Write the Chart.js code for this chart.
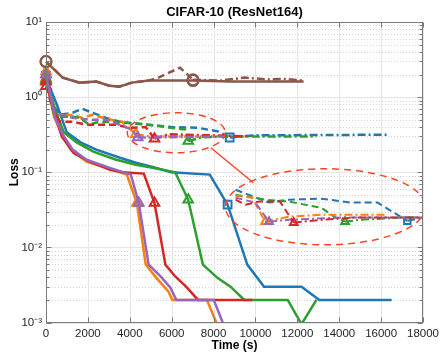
<!DOCTYPE html>
<html>
<head>
<meta charset="utf-8">
<title>CIFAR-10 (ResNet164)</title>
<script src="https://cdn.jsdelivr.net/npm/chart.js@4.4.1/dist/chart.umd.min.js"></script>
<style>
  html, body { margin: 0; padding: 0; background: #fff; }
  #wrap { width: 443px; height: 354px; }
</style>
</head>
<body>
<div id="wrap"><canvas id="chart"></canvas></div>
<script>
// tick values
const timeTicks = [0, 2000, 4000, 6000, 8000, 10000, 12000, 14000, 16000, 18000];
const lossTicks = [1e-3, 1e-2, 1e-1, 1, 10];

// training loss, solid lines  [time (s), loss]
const blueTrain = [[0,1.8],[520,0.79],[990,0.34],[1650,0.25],[2400,0.2],[3530,0.156],[4290,0.134],[5090,0.118],[5980,0.1],[7820,0.093],[8670,0.037],[9610,0.0059],[10410,0.003],[12200,0.003],[13050,0.002],[16500,0.002]];
const orangeTrain = [[0,1.8],[380,0.55],[710,0.34],[1180,0.2],[1930,0.138],[2870,0.115],[3860,0.093],[4340,0.039],[4760,0.0059],[5280,0.0039],[5840,0.0026],[6030,0.002],[7680,0.002],[8200,0.0009]];
const greenTrain = [[0,1.7],[520,0.58],[850,0.34],[1460,0.25],[2260,0.188],[3350,0.147],[4290,0.126],[5090,0.115],[6170,0.1],[6790,0.043],[7490,0.0059],[8200,0.0039],[8810,0.003],[9470,0.002],[11540,0.002],[12200,0.00095],[12910,0.002]];
const redTrain = [[0,1.6],[470,0.55],[750,0.3],[1320,0.18],[2120,0.138],[3060,0.108],[3630,0.1],[4670,0.096],[5180,0.039],[5700,0.0059],[6170,0.0041],[6690,0.003],[7260,0.002],[9850,0.002]];
const purpleTrain = [[0,2.0],[420,0.55],[800,0.32],[1270,0.2],[1930,0.147],[3020,0.115],[4050,0.093],[4430,0.039],[4900,0.0059],[5470,0.0041],[5940,0.0029],[6220,0.002],[8010,0.002],[8500,0.0009]];
const brownTrain = [[0,2.97],[800,1.82],[1600,1.56],[2400,1.61],[3020,1.42],[3490,1.38],[4100,1.56],[4900,1.66],[7020,1.66],[8810,1.61],[12300,1.61]];

// test loss, dashed lines
const blueTest = [[0,1.93],[330,0.79],[660,0.58],[1270,0.62],[1740,0.7],[2210,0.62],[2870,0.53],[3630,0.46],[4760,0.43],[5980,0.4],[7260,0.39],[8200,0.35],[8770,0.29],[9940,0.31],[16350,0.316]];
const orangeTest = [[0,2.2],[420,0.58],[1270,0.58],[1740,0.53],[2210,0.58],[3110,0.5],[3630,0.47],[3960,0.39],[4290,0.32],[4900,0.3],[8200,0.3]];
const greenTest = [[0,1.7],[420,0.55],[660,0.55],[1270,0.55],[1600,0.53],[2070,0.43],[2400,0.46],[3020,0.47],[3820,0.46],[4900,0.43],[5980,0.39],[6640,0.37],[6790,0.26],[7400,0.29],[8340,0.3],[12910,0.3]];
const redTest = [[0,1.4],[330,0.68],[660,0.47],[1270,0.47],[1930,0.43],[2540,0.43],[3350,0.43],[3960,0.39],[4760,0.4],[5180,0.28],[5840,0.32],[9750,0.3]];
const purpleTest = [[0,2.0],[420,0.62],[1270,0.53],[2070,0.5],[2870,0.5],[3490,0.43],[4100,0.37],[4380,0.29],[5040,0.29],[8530,0.3]];
const brownTest = [[0,2.97],[800,1.82],[1600,1.56],[2400,1.61],[3020,1.42],[3490,1.38],[4100,1.56],[4900,1.66],[5370,1.82],[6400,2.47],[7020,1.7],[8340,1.66],[9470,1.82],[10550,1.72],[11300,1.75],[12300,1.66]];

// zoomed copy of the test curves, as it sits inside the big ellipse
const blueZoom = [[9050,0.0585],[10650,0.0395],[11590,0.0432],[13150,0.0444],[14560,0.0395],[15830,0.0395],[16920,0.0256],[17250,0.0226],[18000,0.0249]];
const orangeZoom = [[9050,0.0486],[9850,0.0458],[10460,0.022],[11590,0.0256],[13150,0.0272],[16300,0.0272]];
const greenZoom = [[9050,0.0501],[10460,0.0432],[11590,0.0407],[13150,0.0337],[13760,0.0256],[14280,0.022],[15030,0.0233],[16920,0.0249],[18000,0.0249]];
const redZoom = [[9050,0.0432],[9520,0.037],[10180,0.0407],[11170,0.0407],[11830,0.0213],[13150,0.0233],[14700,0.0249],[18000,0.0249]];
const purpleZoom = [[9050,0.0458],[9990,0.0395],[10650,0.022],[11590,0.0233],[14090,0.0249],[17860,0.0249]];

// times where a marker sits
const blueMarks = [8670, 8770, 0, 17250];
const orangeMarks = [4340, 4290, 0, 10460];
const greenMarks = [6790, 0, 14280];
const redMarks = [5180, 0, 11830];
const purpleMarks = [4430, 4380, 0, 10650];
const brownMarks = [0, 7020];

const COLORS = {
  blue: '#1f77b4', orange: '#ff7f0e', green: '#2ca02c',
  red: '#d62728', purple: '#9467bd', brown: '#8c564b'
};
const DASH = [7, 4];
const DASHDOT = [8, 3, 2, 3];

// build a line dataset; dashed lines switch to dash-dot after their marker
const makeLine = (pts, marks, color, kind, shape, small) => {
  const switchAt = Math.max(...marks.filter(m => pts.some(p => p[0] === m)));
  return {
    data: pts.map(p => ({x: p[0], y: p[1]})),
    borderColor: color,
    borderWidth: small ? 2 : 2.5,
    pointRadius: pts.map(p => marks.includes(p[0]) ? (small ? 4.5 : 5.5) : 0),
    pointStyle: shape,
    pointBorderColor: color,
    pointBackgroundColor: 'rgba(0,0,0,0)',
    pointBorderWidth: 2,
    fill: false,
    tension: 0,
    clip: {left: 10, top: 0, right: 0, bottom: 0},
    segment: kind === 'solid' ? {} : {
      borderDash: ctx => ctx.p0.parsed.x >= switchAt ? DASHDOT : DASH
    }
  };
};

const datasets = [
  makeLine(blueTrain, blueMarks, COLORS.blue, 'solid', 'rect'),
  makeLine(blueTest, blueMarks, COLORS.blue, 'dash', 'rect'),
  makeLine(orangeTrain, orangeMarks, COLORS.orange, 'solid', 'triangle'),
  makeLine(orangeTest, orangeMarks, COLORS.orange, 'dash', 'triangle'),
  makeLine(greenTrain, greenMarks, COLORS.green, 'solid', 'triangle'),
  makeLine(greenTest, greenMarks, COLORS.green, 'dash', 'triangle'),
  makeLine(redTrain, redMarks, COLORS.red, 'solid', 'triangle'),
  makeLine(redTest, redMarks, COLORS.red, 'dash', 'triangle'),
  makeLine(purpleTrain, purpleMarks, COLORS.purple, 'solid', 'triangle'),
  makeLine(purpleTest, purpleMarks, COLORS.purple, 'dash', 'triangle'),
  makeLine(brownTrain, brownMarks, COLORS.brown, 'solid', 'circle'),
  makeLine(brownTest, brownMarks, COLORS.brown, 'dash', 'circle'),
  makeLine(blueZoom, blueMarks, COLORS.blue, 'dash', 'rect', true),
  makeLine(greenZoom, greenMarks, COLORS.green, 'dash', 'triangle', true),
  makeLine(orangeZoom, orangeMarks, COLORS.orange, 'dash', 'triangle', true),
  makeLine(purpleZoom, purpleMarks, COLORS.purple, 'dash', 'triangle', true),
  makeLine(redZoom, redMarks, COLORS.red, 'dash', 'triangle', true)
];
// later datasets are drawn on top
datasets.forEach((d, i) => { d.order = -i; });

const SUP = {'-': '\u207B', '0': '\u2070', '1': '\u00B9', '2': '\u00B2', '3': '\u00B3'};
const powerLabel = v => '10' + String(Math.round(Math.log10(v))).split('').map(c => SUP[c]).join('');

// grid, box, inward ticks and the zoom ellipses
const matlabAxes = {
  id: 'matlabAxes',
  beforeDatasetsDraw(chart) {
    const {ctx, chartArea: a, scales: {x, y}} = chart;
    const hline = py => { ctx.beginPath(); ctx.moveTo(a.left, py); ctx.lineTo(a.right, py); ctx.stroke(); };
    ctx.save();
    ctx.lineWidth = 1;
    ctx.strokeStyle = '#d4d4d4';
    ctx.setLineDash([1, 2]);
    for (let e = -3; e < 1; e++) {
      for (let m = 2; m <= 9; m++) hline(Math.round(y.getPixelForValue(m * Math.pow(10, e))) + 0.5);
    }
    ctx.setLineDash([]);
    ctx.strokeStyle = '#e6e6e6';
    lossTicks.forEach(v => hline(Math.round(y.getPixelForValue(v)) + 0.5));
    timeTicks.forEach(v => {
      const px = Math.round(x.getPixelForValue(v)) + 0.5;
      ctx.beginPath(); ctx.moveTo(px, a.top); ctx.lineTo(px, a.bottom); ctx.stroke();
    });
    ctx.restore();
  },
  afterDatasetsDraw(chart) {
    const {ctx, chartArea: a, scales: {x, y}} = chart;
    ctx.save();
    ctx.beginPath();
    ctx.rect(a.left, a.top, a.right - a.left, a.bottom - a.top);
    ctx.clip();
    ctx.strokeStyle = '#ff4526';
    ctx.lineWidth = 1.5;
    ctx.setLineDash([7, 5]);
    ctx.beginPath();
    ctx.ellipse(x.getPixelForValue(6220), y.getPixelForValue(0.336), 49, 20, 0, 0, Math.PI * 2);
    ctx.stroke();
    ctx.beginPath();
    ctx.ellipse(x.getPixelForValue(13340), y.getPixelForValue(0.0347), 100, 38, 0, 0, Math.PI * 2);
    ctx.stroke();
    ctx.setLineDash([]);
    ctx.beginPath();
    ctx.moveTo(x.getPixelForValue(7870), y.getPixelForValue(0.212));
    ctx.lineTo(x.getPixelForValue(9900), y.getPixelForValue(0.0724));
    ctx.stroke();
    ctx.restore();

    ctx.save();
    ctx.strokeStyle = '#7a7a7a';
    ctx.lineWidth = 1;
    const L = Math.round(a.left) + 0.5, R = Math.round(a.right) - 0.5;
    const T = Math.round(a.top) + 0.5, B = Math.round(a.bottom) - 0.5;
    ctx.strokeRect(L, T, R - L, B - T);
    ctx.beginPath();
    for (let e = -3; e <= 1; e++) {
      for (let m = 1; m <= 9; m++) {
        const v = m * Math.pow(10, e);
        if (v > 10.001) break;
        const py = Math.round(y.getPixelForValue(v)) + 0.5;
        const len = m === 1 ? 5 : 3;
        ctx.moveTo(L, py); ctx.lineTo(L + len, py);
        ctx.moveTo(R, py); ctx.lineTo(R - len, py);
      }
    }
    timeTicks.forEach(v => {
      const px = Math.round(x.getPixelForValue(v)) + 0.5;
      ctx.moveTo(px, B); ctx.lineTo(px, B - 5);
      ctx.moveTo(px, T); ctx.lineTo(px, T + 5);
    });
    ctx.stroke();
    ctx.restore();
  }
};

const tickFont = {family: '"Liberation Sans", Arial, sans-serif', size: 11.5};
const boldFont = {family: '"Liberation Sans", Arial, sans-serif', size: 12, weight: 'bold'};

new Chart(document.querySelector('#chart').getContext('2d'), {
  type: 'line',
  data: {datasets},
  options: {
    responsive: true,
    maintainAspectRatio: false,
    animation: false,
    events: [],
    layout: {padding: {left: 0, right: 15, top: 0, bottom: 0}},
    plugins: {
      legend: {display: false},
      tooltip: {enabled: false},
      title: {
        display: true,
        fullSize: false,
        text: 'CIFAR-10 (ResNet164)',
        color: '#000',
        font: {family: '"Liberation Sans", Arial, sans-serif', size: 13, weight: 'bold'},
        padding: {top: 5, bottom: 1.4}
      }
    },
    scales: {
      x: {
        type: 'linear',
        min: 0,
        max: 18000,
        afterBuildTicks: scale => { scale.ticks = timeTicks.map(v => ({value: v})); },
        afterFit: scale => { scale.height = 31.5; },
        grid: {display: false, drawTicks: false},
        border: {display: false},
        ticks: {color: '#262626', font: tickFont, padding: 4, maxRotation: 0, autoSkip: false, callback: v => String(v)},
        title: {display: true, text: 'Time (s)', color: '#000', font: boldFont, padding: {top: 0, bottom: 1}}
      },
      y: {
        type: 'logarithmic',
        min: 1e-3,
        max: 10,
        afterBuildTicks: scale => { scale.ticks = lossTicks.map(v => ({value: v, major: true})); },
        afterFit: scale => { scale.width = 46; },
        grid: {display: false, drawTicks: false},
        border: {display: false},
        ticks: {color: '#262626', font: tickFont, padding: 4, autoSkip: false, callback: v => powerLabel(v)},
        title: {display: true, text: 'Loss', color: '#000', font: boldFont, padding: {top: 7, bottom: 0}}
      }
    }
  },
  plugins: [matlabAxes]
});
</script>
</body>
</html>
